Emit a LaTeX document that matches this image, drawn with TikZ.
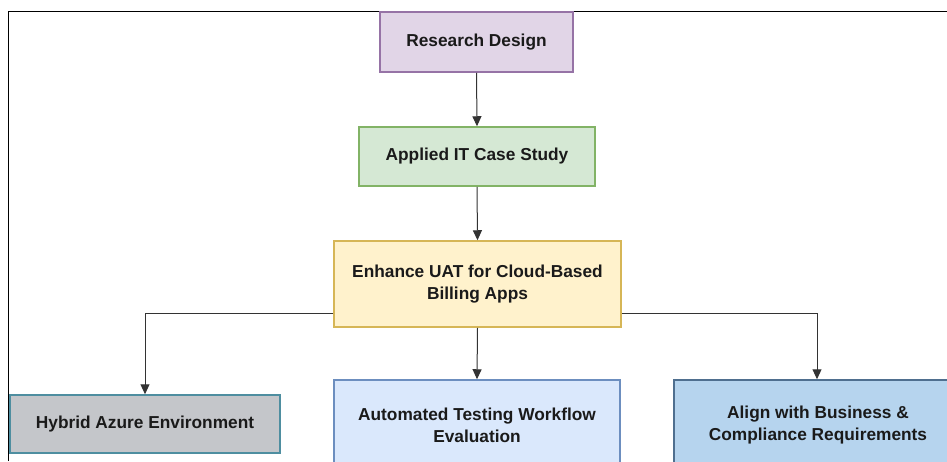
\documentclass[tikz,border=0pt]{standalone}
\usepackage{fontspec}
\setmainfont{Liberation Sans}
\usetikzlibrary{arrows.meta}
\definecolor{rdFill}{HTML}{E1D5E7}\definecolor{rdLine}{HTML}{9673A6}
\definecolor{csFill}{HTML}{D5E8D4}\definecolor{csLine}{HTML}{82B366}
\definecolor{enFill}{HTML}{FFF2CC}\definecolor{enLine}{HTML}{D6B656}
\definecolor{hyFill}{HTML}{C4C6CA}\definecolor{hyLine}{HTML}{4E8EA0}
\definecolor{atFill}{HTML}{DAE8FC}\definecolor{atLine}{HTML}{6C8EBF}
\definecolor{alFill}{HTML}{B6D4EE}\definecolor{alLine}{HTML}{4F6F8F}
\definecolor{txt}{HTML}{1A1A1A}
\definecolor{wire}{HTML}{333333}
\tikzset{
  box/.style={draw, line width=1.5pt, inner sep=0pt, align=center,
    text=txt, font=\fontsize{17.3}{22}\selectfont\bfseries},
  arr/.style={draw=wire, line width=1pt, -{Triangle[width=9pt,length=10pt]}}
}
\begin{document}
\begin{tikzpicture}[x=1pt,y=-1pt]
\useasboundingbox (0,0) rectangle (947,461);
\clip (0,0) rectangle (947,461);
% outer frame (top and left edges)
\draw[black, line width=1pt] (8,461) -- (8,11) -- (947,11);
% nodes
\node[box, fill=rdFill, draw=rdLine, minimum width=193pt, minimum height=60pt] (rd) at (476.5,42) {Research Design};
\node[box, fill=csFill, draw=csLine, minimum width=236pt, minimum height=59pt] (cs) at (477,156.5) {Applied IT Case Study};
\node[box, fill=enFill, draw=enLine, minimum width=287pt, minimum height=86pt] (en) at (477.5,284) {Enhance UAT for Cloud-Based\\Billing Apps};
\node[box, fill=hyFill, draw=hyLine, minimum width=270pt, minimum height=58pt] (hy) at (145,424) {Hybrid Azure Environment};
\node[box, fill=atFill, draw=atLine, minimum width=286pt, minimum height=90pt] (at) at (477,425) {Automated Testing Workflow\\Evaluation};
\node[box, fill=alFill, draw=alLine, minimum width=288pt, minimum height=90pt] (al) at (818,425) {Align with Business \&\\Compliance Requirements};
% connectors
\draw[arr] (rd.south) -- (cs.north);
\draw[arr] (cs.south) -- (en.north);
\draw[arr] ([yshift=-29pt]en.west) -| (hy.north);
\draw[arr] (en.south) -- (at.north);
\draw[arr] ([yshift=-29pt]en.east) -| ([xshift=-1pt]al.north);
\end{tikzpicture}
\end{document}
